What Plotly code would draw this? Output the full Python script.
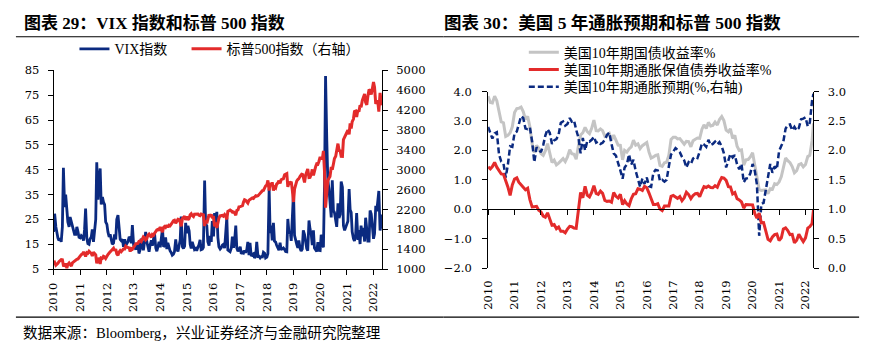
import pandas as pd
import plotly.graph_objects as go

# ---------------- data: chart 29 (semi-monthly, 1st & 15th) ----------------
vix_dates = list(pd.date_range('2010-01-01', '2022-04-15', freq='SMS')) + [pd.Timestamp('2022-04-25')]

vix_2010 = [20.0, 27.3, 22.0, 19.0, 17.5, 16.5, 17.5, 16.0, 22.0, 45.8, 30.0, 35.0, 30.1, 24.0, 22.0, 26.0, 24.0, 22.0, 21.0, 19.0, 19.0, 22.0, 20.0, 17.8]
vix_2011 = [17.6, 18.5, 18.0, 16.5, 21.0, 29.4, 17.4, 15.3, 15.0, 17.1, 18.0, 21.0, 16.0, 20.0, 25.0, 48.0, 33.0, 41.0, 45.5, 31.0, 34.0, 32.0, 31.0, 24.0]
vix_2012 = [23.0, 20.0, 18.0, 19.0, 17.0, 15.0, 15.5, 19.0, 17.0, 25.0, 26.7, 21.0, 17.0, 16.5, 17.0, 14.0, 17.0, 14.5, 15.5, 16.0, 18.0, 17.5, 15.5, 22.7]
vix_2013 = [14.7, 13.5, 12.9, 15.0, 15.5, 11.3, 12.9, 17.3, 13.5, 12.6, 16.3, 20.0, 16.0, 13.7, 12.0, 14.7, 16.6, 14.4, 16.6, 19.4, 13.5, 12.2, 14.0, 16.0]
vix_2014 = [13.8, 18.1, 21.4, 14.0, 14.5, 17.8, 13.1, 15.6, 13.2, 12.4, 11.6, 10.6, 11.0, 12.0, 17.0, 13.2, 12.1, 14.1, 16.7, 26.2, 14.0, 13.3, 14.3, 23.6]
vix_2015 = [19.4, 22.4, 20.4, 15.0, 13.3, 16.0, 14.7, 12.9, 13.3, 12.4, 13.8, 14.8, 16.8, 12.8, 13.0, 13.8, 40.7, 23.0, 22.5, 16.0, 14.5, 18.4, 16.0, 24.4]
vix_2016 = [18.2, 27.6, 22.0, 28.1, 17.7, 14.0, 13.1, 13.6, 14.7, 15.0, 13.5, 20.1, 25.8, 12.7, 12.4, 12.0, 13.5, 18.1, 13.6, 16.1, 22.5, 13.4, 12.2, 12.8]
vix_2017 = [14.0, 11.2, 11.8, 11.5, 12.5, 11.6, 12.9, 16.0, 10.6, 15.6, 10.2, 10.9, 11.2, 9.5, 10.3, 16.0, 10.1, 10.2, 9.5, 10.0, 9.9, 11.8, 11.4, 9.5]
vix_2018 = [9.8, 11.3, 37.3, 19.5, 22.5, 16.6, 23.6, 16.3, 15.9, 14.6, 13.5, 12.6, 15.6, 12.8, 13.2, 13.5, 12.9, 12.1, 12.0, 25.2, 19.3, 20.3, 16.4, 25.6]
vix_2019 = [36.0, 18.6, 16.1, 14.9, 13.6, 16.5, 13.4, 12.3, 13.1, 20.6, 18.9, 15.3, 13.3, 12.4, 24.6, 21.2, 19.0, 14.7, 20.6, 13.5, 12.3, 12.1, 15.9, 12.6]
vix_2020 = [12.5, 18.8, 17.5, 13.7, 40.1, 82.7, 57.0, 40.8, 37.2, 31.9, 25.8, 40.8, 28.6, 27.8, 24.3, 22.0, 31.5, 25.6, 27.0, 40.3, 38.0, 22.5, 20.6, 22.0]
vix_2021 = [22.75, 24.3, 37.2, 28.9, 27.9, 20.0, 17.3, 16.3, 18.6, 27.6, 16.8, 20.7, 15.1, 22.5, 18.2, 21.6, 16.1, 25.7, 21.1, 16.3, 16.3, 28.6, 27.2, 22.9]
vix_2022 = [17.2, 19.2, 30.5, 28.3, 33.3, 36.45, 20.6, 22.7, 27.0]

spx_2010 = [1115, 1136, 1080, 1094, 1118, 1150, 1178, 1192, 1187, 1075, 1070, 1115, 1022, 1096, 1125, 1080, 1060, 1125, 1146, 1176, 1193, 1197, 1206, 1241]
spx_2011 = [1271, 1293, 1307, 1343, 1306, 1256, 1332, 1320, 1361, 1337, 1314, 1266, 1340, 1316, 1287, 1119, 1204, 1209, 1105, 1225, 1218, 1257, 1244, 1215]
spx_2012 = [1277, 1293, 1325, 1351, 1374, 1402, 1419, 1370, 1405, 1310, 1278, 1342, 1374, 1350, 1375, 1405, 1404, 1465, 1444, 1433, 1427, 1355, 1413, 1402]
spx_2013 = [1462, 1472, 1513, 1520, 1518, 1560, 1570, 1553, 1597, 1650, 1631, 1588, 1614, 1680, 1706, 1661, 1640, 1697, 1681, 1721, 1761, 1790, 1800, 1775]
spx_2014 = [1848, 1790, 1742, 1838, 1859, 1841, 1885, 1842, 1881, 1870, 1924, 1937, 1973, 1982, 1925, 1955, 2003, 1998, 1946, 1862, 2018, 2039, 2067, 1990]
spx_2015 = [2058, 1992, 2020, 2096, 2117, 2081, 2059, 2106, 2108, 2122, 2111, 2084, 2077, 2107, 2098, 2091, 1867, 1978, 1923, 2033, 2104, 2050, 2102, 2043]
spx_2016 = [2044, 1859, 1940, 1829, 1978, 2027, 2072, 2080, 2081, 2066, 2100, 2071, 2001, 2161, 2171, 2190, 2171, 2147, 2151, 2132, 2085, 2180, 2191, 2253]
spx_2017 = [2258, 2275, 2279, 2349, 2395, 2385, 2362, 2329, 2388, 2400, 2430, 2432, 2423, 2459, 2476, 2468, 2476, 2500, 2529, 2553, 2579, 2585, 2642, 2675]
spx_2018 = [2695, 2786, 2581, 2731, 2677, 2747, 2582, 2656, 2635, 2711, 2734, 2779, 2726, 2798, 2813, 2818, 2901, 2905, 2924, 2656, 2740, 2730, 2760, 2599]
spx_2019 = [2351, 2610, 2706, 2775, 2803, 2822, 2867, 2905, 2924, 2850, 2744, 2886, 2964, 3014, 2844, 2847, 2906, 3007, 2887, 2995, 3067, 3120, 3113, 3168]
spx_2020 = [3258, 3225, 3225, 3380, 2954, 2237, 2470, 2783, 2830, 2863, 3055, 3002, 3115, 3226, 3271, 3372, 3526, 3401, 3381, 3271, 3270, 3605, 3662, 3694]
spx_2021 = [3756, 3795, 3714, 3934, 3829, 3968, 4020, 4170, 4181, 4063, 4202, 4166, 4297, 4258, 4395, 4448, 4524, 4358, 4308, 4471, 4613, 4595, 4513, 4620]
spx_2022 = [4766, 4662, 4326, 4380, 4374, 4170, 4546, 4392, 4296]

vix = (vix_2010 + vix_2011 + vix_2012 + vix_2013 + vix_2014 + vix_2015 + vix_2016
       + vix_2017 + vix_2018 + vix_2019 + vix_2020 + vix_2021 + vix_2022)
spx = (spx_2010 + spx_2011 + spx_2012 + spx_2013 + spx_2014 + spx_2015 + spx_2016
       + spx_2017 + spx_2018 + spx_2019 + spx_2020 + spx_2021 + spx_2022)

# ---------------- data: chart 30 (monthly, month start) ----------------
rate_dates = list(pd.date_range('2010-01-01', '2022-04-01', freq='MS')) + [pd.Timestamp('2022-04-21')]

ust10 = [3.84,
         3.63, 3.61, 3.84, 3.69, 3.31, 2.97, 2.94, 2.47, 2.51, 2.60, 2.80, 3.29,
         3.42, 3.43, 3.47, 3.32, 3.05, 3.16, 2.80, 2.22, 1.92, 2.17, 2.08, 1.89,
         1.83, 1.98, 2.23, 1.95, 1.59, 1.67, 1.51, 1.57, 1.65, 1.72, 1.62, 1.78,
         2.02, 1.89, 1.87, 1.70, 2.16, 2.52, 2.60, 2.78, 2.64, 2.57, 2.75, 3.03,
         2.67, 2.66, 2.73, 2.67, 2.48, 2.53, 2.58, 2.35, 2.52, 2.35, 2.18, 2.17,
         1.68, 2.00, 1.94, 2.05, 2.12, 2.35, 2.18, 2.22, 2.06, 2.16, 2.21, 2.27,
         1.94, 1.74, 1.78, 1.83, 1.85, 1.49, 1.46, 1.58, 1.60, 1.84, 2.37, 2.45,
         2.45, 2.39, 2.40, 2.29, 2.21, 2.31, 2.30, 2.12, 2.33, 2.38, 2.42, 2.41,
         2.72, 2.87, 2.74, 2.95, 2.83, 2.85, 2.96, 2.86, 3.05, 3.15, 3.01, 2.69,
         2.63, 2.73, 2.41, 2.51, 2.14, 2.00, 2.02, 1.50, 1.68, 1.69, 1.78, 1.92,
         1.51, 1.13, 0.67, 0.64, 0.65, 0.66, 0.53, 0.70, 0.68, 0.87, 0.84, 0.93,
         1.11, 1.44, 1.74, 1.65, 1.58, 1.45, 1.24, 1.31, 1.52, 1.55, 1.44, 1.52,
         1.79, 1.83, 2.32,
         2.92]

tips10 = [1.44,
          1.37, 1.45, 1.59, 1.43, 1.33, 1.20, 1.19, 1.00, 0.76, 0.47, 0.83, 1.03,
          1.07, 0.92, 0.85, 0.75, 0.66, 0.71, 0.33, 0.08, 0.09, 0.10, -0.03, -0.09,
          -0.23, -0.27, -0.12, -0.37, -0.54, -0.52, -0.66, -0.60, -0.75, -0.75, -0.80, -0.67,
          -0.58, -0.59, -0.64, -0.65, -0.06, 0.57, 0.39, 0.78, 0.48, 0.42, 0.57, 0.80,
          0.54, 0.51, 0.62, 0.54, 0.30, 0.27, 0.28, 0.24, 0.57, 0.44, 0.38, 0.51,
          0.16, 0.29, 0.18, 0.12, 0.36, 0.51, 0.53, 0.70, 0.68, 0.64, 0.78, 0.73,
          0.55, 0.36, 0.16, 0.16, 0.19, 0.01, -0.04, 0.11, 0.10, 0.11, 0.44, 0.47,
          0.42, 0.37, 0.43, 0.29, 0.39, 0.58, 0.50, 0.36, 0.47, 0.53, 0.54, 0.43,
          0.62, 0.77, 0.74, 0.79, 0.74, 0.73, 0.80, 0.75, 0.93, 1.08, 1.06, 0.98,
          0.77, 0.76, 0.52, 0.57, 0.36, 0.32, 0.25, 0.04, 0.16, 0.16, 0.17, 0.15,
          -0.15, -0.30, -0.13, -0.46, -0.45, -0.69, -1.02, -1.07, -0.94, -0.86, -0.84, -1.06,
          -0.97, -0.67, -0.63, -0.72, -0.86, -0.85, -1.14, -1.05, -0.85, -0.98, -1.10, -0.97,
          -0.64, -0.59, -0.49,
          -0.02]

breakeven10 = [2.40,
               2.28, 2.20, 2.29, 2.31, 1.93, 1.81, 1.78, 1.54, 1.76, 2.07, 2.06, 2.29,
               2.32, 2.45, 2.58, 2.55, 2.37, 2.36, 2.39, 2.15, 1.80, 2.05, 2.02, 1.97,
               2.09, 2.25, 2.36, 2.30, 2.11, 2.17, 2.19, 2.27, 2.47, 2.49, 2.42, 2.45,
               2.55, 2.49, 2.51, 2.35, 2.22, 1.95, 2.21, 2.00, 2.16, 2.15, 2.18, 2.23,
               2.13, 2.15, 2.11, 2.13, 2.18, 2.26, 2.30, 2.11, 1.95, 1.91, 1.80, 1.66,
               1.52, 1.71, 1.76, 1.93, 1.76, 1.84, 1.65, 1.52, 1.38, 1.52, 1.43, 1.54,
               1.39, 1.38, 1.62, 1.67, 1.66, 1.48, 1.50, 1.47, 1.50, 1.73, 1.93, 1.98,
               2.04, 2.01, 1.97, 1.89, 1.83, 1.71, 1.80, 1.77, 1.86, 1.89, 1.87, 1.98,
               2.12, 2.10, 2.06, 2.18, 2.09, 2.11, 2.15, 2.10, 2.14, 2.07, 1.95, 1.71,
               1.84, 1.94, 1.88, 1.92, 1.76, 1.68, 1.77, 1.46, 1.52, 1.53, 1.61, 1.77,
               1.65, 1.42, 0.55, 1.09, 1.11, 1.34, 1.55, 1.77, 1.62, 1.73, 1.68, 1.99,
               2.08, 2.15, 2.37, 2.43, 2.44, 2.34, 2.40, 2.34, 2.38, 2.53, 2.54, 2.56,
               2.41, 2.47, 2.84,
               2.96]

year_ticks = [str(y) for y in range(2010, 2023)]
left1_ticks = [5, 15, 25, 35, 45, 55, 65, 75, 85]
right1_ticks = [1000, 1400, 1800, 2200, 2600, 3000, 3400, 3800, 4200, 4600, 5000]
left2_ticks = [-2.0, -1.0, 0.0, 1.0, 2.0, 3.0, 4.0]
right2_ticks = [0.0, 0.5, 1.0, 1.5, 2.0, 2.5, 3.0]

# ---------------- layout helpers ----------------
W, H = 873, 352
def px(x):
    return x / W
def py(y):
    return 1 - y / H

BLUE = '#0b2a80'
RED = '#e32b2b'
GRAY = '#c4c4c4'
SERIF = 'DejaVu Serif, Noto Sans CJK SC'
TITLEF = 'Liberation Serif, Noto Sans CJK SC'
LEGF = 'Liberation Serif, Noto Sans CJK SC'
tickfont = dict(family=SERIF, size=11.5, color='#000')

fig = go.Figure()

# chart 29
fig.add_trace(go.Scatter(x=vix_dates, y=vix, name='VIX指数', mode='lines',
                         line=dict(color=BLUE, width=2.8), xaxis='x', yaxis='y',
                         legend='legend'))
fig.add_trace(go.Scatter(x=vix_dates, y=spx, name='标普500指数（右轴）', mode='lines',
                         line=dict(color=RED, width=3), xaxis='x', yaxis='y2',
                         legend='legend2'))

# chart 30
fig.add_trace(go.Scatter(x=rate_dates, y=ust10, name='美国10年期国债收益率%', mode='lines',
                         line=dict(color=GRAY, width=3), xaxis='x3', yaxis='y3',
                         legend='legend3'))
fig.add_trace(go.Scatter(x=rate_dates, y=tips10, name='美国10年期通胀保值债券收益率%', mode='lines',
                         line=dict(color=RED, width=3), xaxis='x4', yaxis='y3',
                         legend='legend4'))
fig.add_trace(go.Scatter(x=rate_dates, y=breakeven10, name='美国10年期通胀预期(%,右轴)', mode='lines',
                         line=dict(color=BLUE, width=2.5, dash='6px,3px'), xaxis='x3', yaxis='y4',
                         legend='legend5'))

x1_range = ['2010-01-01', '2022-04-27']
x2_range = ['2010-01-01', '2022-04-21']

common_x = dict(type='date', dtick='M12', tick0='2010-01-01', tickformat='%Y',
                tickangle=-90, tickfont=tickfont, showgrid=False, zeroline=False)

y2_d0, y2_d1 = py(272), py(88)
zero_pos = y2_d0 + (0 - (-2)) / 6 * (y2_d1 - y2_d0)

def leg(x, y, size):
    return dict(x=x, y=y, xanchor='left', yanchor='middle', orientation='h',
                bgcolor='rgba(0,0,0,0)', borderwidth=0,
                font=dict(family=LEGF, size=size, color='#000'),
                itemwidth=30, tracegroupgap=0)

fig.update_layout(
    width=W, height=H,
    margin=dict(l=0, r=0, t=0, b=0),
    paper_bgcolor='white', plot_bgcolor='white',
    xaxis=dict(common_x, domain=[px(47), px(378)], range=x1_range, anchor='y',
               showline=True, linecolor='#000', linewidth=1, ticks='outside',
               ticklen=5, tickcolor='#000', ticklabelstandoff=3),
    yaxis=dict(domain=[py(273), py(66)], range=[5, 85], tickvals=left1_ticks,
               anchor='x', showline=True, linecolor='#000', linewidth=1,
               ticks='outside', ticklen=5, tickcolor='#000', showgrid=False,
               zeroline=False, tickfont=tickfont, ticklabelstandoff=6),
    yaxis2=dict(range=[1000, 5000], tickvals=right1_ticks, overlaying='y',
                side='right', anchor='x', showline=True, linecolor='#000',
                linewidth=1, ticks='outside', ticklen=5, tickcolor='#000',
                showgrid=False, zeroline=False, tickfont=tickfont, ticklabelstandoff=6),
    xaxis3=dict(common_x, domain=[px(485), px(813)], range=x2_range, anchor='y3',
                showline=False, ticks='', ticklabelstandoff=9),
    xaxis4=dict(type='date', overlaying='x3', range=x2_range, anchor='free',
                position=zero_pos, showline=True, linecolor='#000', linewidth=1,
                ticks='outside', ticklen=5, tickcolor='#000', dtick='M12',
                tick0='2010-01-01', showticklabels=False, showgrid=False, zeroline=False),
    yaxis3=dict(domain=[y2_d0, y2_d1], range=[-2, 4], tickvals=left2_ticks,
                tickformat='.1f', anchor='x3', showline=True, linecolor='#000',
                linewidth=1, ticks='outside', ticklen=5, tickcolor='#000',
                showgrid=False, zeroline=False, tickfont=tickfont, ticklabelstandoff=8),
    yaxis4=dict(range=[0, 3], tickvals=right2_ticks, tickformat='.1f',
                overlaying='y3', side='right', anchor='x3', showline=True,
                linecolor='#000', linewidth=1, ticks='outside', ticklen=5,
                tickcolor='#000', showgrid=False, zeroline=False, tickfont=tickfont,
                ticklabelstandoff=6),
    legend=leg(px(68), py(44), 14),
    legend2=leg(px(181), py(44), 14),
    legend3=leg(px(521), py(47.5), 14),
    legend4=leg(px(521), py(65.5), 14),
    legend5=leg(px(521), py(83.5), 14),
    showlegend=True,
)

# titles, rules and source
fig.add_annotation(x=px(15), y=py(17), xref='paper', yref='paper', xanchor='left',
                   yanchor='middle', showarrow=False,
                   text='<b>图表 29：VIX 指数和标普 500 指数</b>',
                   font=dict(family=TITLEF, size=17, color='#000'))
fig.add_annotation(x=px(439), y=py(17), xref='paper', yref='paper', xanchor='left',
                   yanchor='middle', showarrow=False,
                   text='<b>图表 30：美国 5 年通胀预期和标普 500 指数</b>',
                   font=dict(family=TITLEF, size=17.5, color='#000'))
fig.add_annotation(x=px(14), y=py(339), xref='paper', yref='paper', xanchor='left',
                   yanchor='middle', showarrow=False,
                   text='数据来源：Bloomberg，兴业证券经济与金融研究院整理',
                   font=dict(family=TITLEF, size=14.6, color='#000'))
for (x0, x1) in [(9, 440), (440, 859)]:
    fig.add_shape(type='line', xref='paper', yref='paper', x0=px(x0), x1=px(x1),
                  y0=py(31), y1=py(31), line=dict(color='#000', width=1.2))
    fig.add_shape(type='line', xref='paper', yref='paper', x0=px(x0), x1=px(x1),
                  y0=py(323), y1=py(323), line=dict(color='#000', width=1.2))

fig.write_html('out.html')
